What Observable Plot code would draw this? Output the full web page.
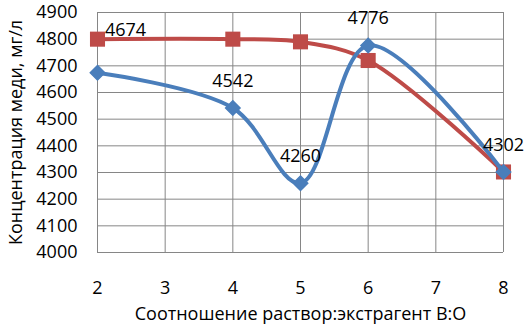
<!DOCTYPE html>
<html><head><meta charset="utf-8">
<script src="https://cdn.jsdelivr.net/npm/d3@7"></script>
<script src="https://cdn.jsdelivr.net/npm/@observablehq/plot@0.6"></script>
<style>body{margin:0;background:#fff}</style>
</head><body><div id="chart"></div>
<script>
const ratios = [2, 4, 5, 6, 8];
const blueValues = [4674, 4542, 4260, 4776, 4302];
const redValues = [4800, 4800, 4790, 4720, 4302];
const xTicks = [2, 3, 4, 5, 6, 7, 8];
const yTicks = [4000, 4100, 4200, 4300, 4400, 4500, 4600, 4700, 4800, 4900];
const xTitle = "Соотношение раствор:экстрагент В:О";
const yTitle = "Концентрация меди, мг/л";

const blue = ratios.map((x, i) => ({x, y: blueValues[i]}));
const red = ratios.map((x, i) => ({x, y: redValues[i]}));
const font = "'Open Sans', sans-serif";

const chart = Plot.plot({
  width: 531, height: 324,
  marginLeft: 97, marginRight: 28, marginTop: 12, marginBottom: 72,
  style: {fontFamily: font, fontSize: "17px", background: "#fff", color: "#000"},
  x: {domain: [2, 8]},
  y: {domain: [4000, 4900]},
  marks: [
    Plot.gridX(xTicks, {stroke: "#868686", strokeOpacity: 1, strokeWidth: 1}),
    Plot.gridY(yTicks, {stroke: "#868686", strokeOpacity: 1, strokeWidth: 1}),
    Plot.axisX(xTicks, {tickSize: 0, tickPadding: 29, tickFormat: d => String(d), fontSize: 18,
      label: xTitle, labelAnchor: "center", labelOffset: 67, labelArrow: "none"}),
    Plot.axisY(yTicks, {tickSize: 0, tickPadding: 20, tickFormat: d => String(d), fontSize: 18,
      label: yTitle, labelAnchor: "center", labelOffset: 88, labelArrow: "none"}),
    Plot.line(red, {x: "x", y: "y", stroke: "#be4b48", strokeWidth: 4, curve: "catmull-rom"}),
    Plot.dot(red, {x: "x", y: "y", symbol: "square", fill: "#be4b48", r: 8.5}),
    Plot.line(blue, {x: "x", y: "y", stroke: "#4a7ebb", strokeWidth: 4, curve: "catmull-rom"}),
    Plot.dot(blue, {x: "x", y: "y", symbol: "diamond2", fill: "#4a7ebb", stroke: "#4a7ebb", r: 6.5}),
    Plot.text(blue.slice(1), {x: "x", y: "y", text: d => String(d.y), dy: -27, fontSize: 18, fill: "#000"}),
    Plot.text(blue.slice(0, 1), {x: "x", y: "y", text: d => String(d.y), dx: 28, dy: -43, fontSize: 18, fill: "#000"})
  ]
});
document.getElementById("chart").appendChild(chart);
</script>
</body></html>
